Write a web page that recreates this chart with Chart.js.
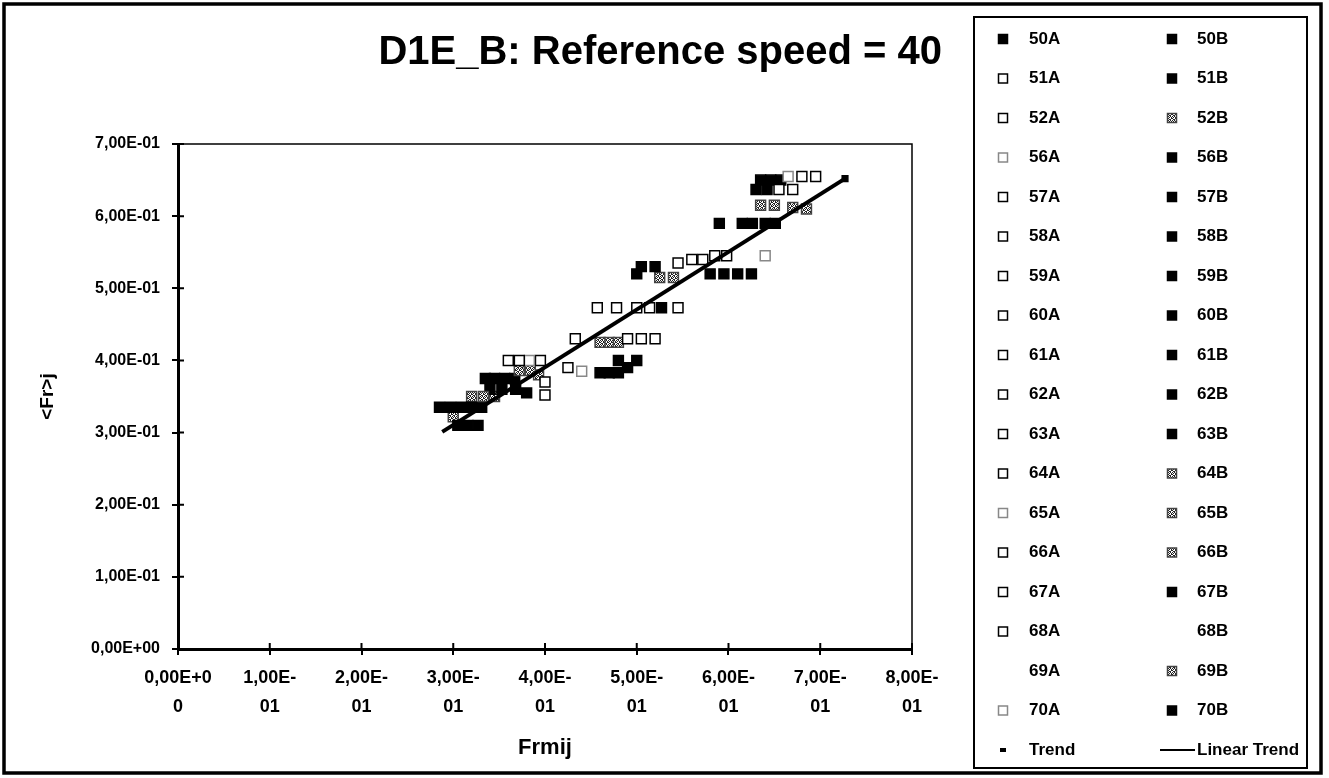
<!DOCTYPE html>
<html>
<head>
<meta charset="utf-8">
<title>D1E_B: Reference speed = 40</title>
<script src="https://cdn.jsdelivr.net/npm/chart.js"></script>
<style>
  html, body { margin: 0; padding: 0; background: #fff; }
  #wrap { width: 1329px; height: 778px; }
</style>
</head>
<body>
<div id="wrap"><canvas id="grafico"></canvas></div>
<script>
// valores: [Frmij, <Fr>j]
const s50A = [[0.285, 0.335], [0.297, 0.335]];
const s51A = [[0.360, 0.400], [0.457, 0.473]];
const s52A = [[0.372, 0.400], [0.478, 0.473]];
const s56A = [[0.383, 0.400], [0.665, 0.655]];
const s57A = [[0.395, 0.400], [0.500, 0.473]];
const s58A = [[0.400, 0.370], [0.680, 0.655]];
const s59A = [[0.400, 0.352], [0.695, 0.655]];
const s60A = [[0.425, 0.390], [0.514, 0.473]];
const s61A = [[0.433, 0.430], [0.545, 0.535]];
const s62A = [[0.490, 0.430], [0.560, 0.540]];
const s63A = [[0.505, 0.430], [0.572, 0.540]];
const s64A = [[0.520, 0.430], [0.585, 0.545]];
const s65A = [[0.640, 0.545]];
const s66A = [[0.545, 0.473], [0.655, 0.637]];
const s67A = [[0.670, 0.637]];
const s68A = [[0.598, 0.545]];
const s69A = [];
const s70A = [[0.440, 0.385]];
const sTrend = [[0.727, 0.652]];

const s50B = [[0.309, 0.335], [0.335, 0.375], [0.460, 0.383]];
const s51B = [[0.320, 0.335], [0.345, 0.375], [0.470, 0.383]];
const s52B = [[0.320, 0.350], [0.333, 0.350], [0.372, 0.386]];
const s56B = [[0.331, 0.335], [0.356, 0.375], [0.480, 0.383]];
const s57B = [[0.305, 0.310], [0.367, 0.375], [0.490, 0.390]];
const s58B = [[0.316, 0.310], [0.340, 0.360], [0.480, 0.400], [0.500, 0.520]];
const s59B = [[0.327, 0.310], [0.353, 0.360], [0.500, 0.400], [0.520, 0.530]];
const s60B = [[0.368, 0.360], [0.527, 0.473], [0.580, 0.520], [0.590, 0.590], [0.635, 0.650]];
const s61B = [[0.380, 0.355], [0.595, 0.520], [0.615, 0.590], [0.646, 0.650]];
const s62B = [[0.610, 0.520], [0.626, 0.590], [0.657, 0.650]];
const s63B = [[0.625, 0.520], [0.640, 0.590], [0.630, 0.637]];
const s64B = [[0.345, 0.350], [0.384, 0.386], [0.635, 0.615], [0.650, 0.615]];
const s65B = [[0.393, 0.380], [0.460, 0.425], [0.525, 0.515]];
const s66B = [[0.470, 0.425], [0.480, 0.425], [0.540, 0.515]];
const s67B = [[0.651, 0.590], [0.642, 0.637]];
const s68B = [];
const s69B = [[0.670, 0.612], [0.685, 0.610], [0.300, 0.322]];
const s70B = [[0.505, 0.530]];

// reta de tendencia
const trendX = [0.288, 0.727];
const trendY = [0.301, 0.652];

const xTicks = [0, 0.8, 0.1]; // min, max, passo
const yTicks = [0, 0.7, 0.1];

const colunaA = [
  ["50A", s50A], ["51A", s51A], ["52A", s52A], ["56A", s56A], ["57A", s57A], ["58A", s58A],
  ["59A", s59A], ["60A", s60A], ["61A", s61A], ["62A", s62A], ["63A", s63A], ["64A", s64A],
  ["65A", s65A], ["66A", s66A], ["67A", s67A], ["68A", s68A], ["69A", s69A], ["70A", s70A],
  ["Trend", sTrend],
];
const colunaB = [
  ["50B", s50B], ["51B", s51B], ["52B", s52B], ["56B", s56B], ["57B", s57B], ["58B", s58B],
  ["59B", s59B], ["60B", s60B], ["61B", s61B], ["62B", s62B], ["63B", s63B], ["64B", s64B],
  ["65B", s65B], ["66B", s66B], ["67B", s67B], ["68B", s68B], ["69B", s69B], ["70B", s70B],
];

// estilos
const tracejados = ["52B", "64B", "65B", "66B", "69B"];
const claros = ["56A", "65A", "70A"];
const semMarcador = ["69A", "68B"];

function criarPadrao() {
  const c = document.createElement("canvas");
  c.width = 4;
  c.height = 4;
  const g = c.getContext("2d");
  g.fillStyle = "#fff";
  g.fillRect(0, 0, 4, 4);
  g.fillStyle = "#222";
  [[0, 0], [2, 0], [1, 1], [3, 1], [0, 2], [3, 2], [1, 3], [2, 3]].forEach(([a, b]) => g.fillRect(a, b, 1, 1));
  return g.createPattern(c, "repeat");
}
const padrao = criarPadrao();

function paraPontos(arr) {
  return arr.map(([x, y]) => ({ x: x, y: y }));
}

function estilo(nome) {
  if (nome === "Trend") return { fill: "#000", stroke: "#000", r: 4 };
  if (tracejados.includes(nome)) return { fill: padrao, stroke: "#444", r: 7 };
  if (nome === "50A" || nome.endsWith("B")) return { fill: "#000", stroke: "#000", r: 7 };
  if (claros.includes(nome)) return { fill: "#fff", stroke: "#888", r: 7 };
  return { fill: "#fff", stroke: "#000", r: 7 };
}

const datasets = [];
colunaA.concat(colunaB).forEach(([nome, arr]) => {
  const e = estilo(nome);
  datasets.push({
    label: nome,
    data: paraPontos(arr),
    pointStyle: "rect",
    pointRadius: semMarcador.includes(nome) ? 0 : e.r,
    backgroundColor: e.fill,
    borderColor: e.stroke,
    borderWidth: 1.5,
  });
});
datasets.push({
  label: "Linear Trend",
  data: trendX.map((x, i) => ({ x: x, y: trendY[i] })),
  showLine: true,
  borderColor: "#000",
  backgroundColor: "#000",
  borderWidth: 4,
  pointRadius: 0,
  order: -1,
});

function formatoExcel(v) {
  const s = Number(v).toExponential(2);
  const partes = s.split("e");
  const sinal = partes[1][0];
  const exp = partes[1].slice(1).padStart(2, "0");
  return partes[0].replace(".", ",") + "E" + sinal + exp;
}

function quebraX(v) {
  const s = formatoExcel(v);
  const i = s.indexOf("-");
  if (i >= 0) return [s.slice(0, i + 1), s.slice(i + 1)];
  return [s.slice(0, s.length - 1), s.slice(s.length - 1)];
}

const fonte = "'Liberation Sans', Arial, sans-serif";

const molduraPlugin = {
  id: "moldura",
  beforeDraw(chart) {
    const ctx = chart.ctx;
    ctx.save();
    ctx.fillStyle = "#fff";
    ctx.fillRect(0, 0, chart.width, chart.height);
    ctx.restore();
  },
  beforeDatasetsDraw(chart) {
    const a = chart.chartArea;
    const ctx = chart.ctx;
    ctx.save();
    ctx.strokeStyle = "#000";
    ctx.lineWidth = 1.5;
    ctx.beginPath();
    ctx.moveTo(a.left, a.top);
    ctx.lineTo(a.right, a.top);
    ctx.lineTo(a.right, a.bottom);
    ctx.stroke();
    // marcas cruzando os eixos (parte interna)
    ctx.lineWidth = 2;
    ctx.beginPath();
    chart.scales.x.ticks.forEach((t) => {
      const px = chart.scales.x.getPixelForValue(t.value);
      ctx.moveTo(px, a.bottom);
      ctx.lineTo(px, a.bottom - 6);
    });
    chart.scales.y.ticks.forEach((t) => {
      const py = chart.scales.y.getPixelForValue(t.value);
      ctx.moveTo(a.left, py);
      ctx.lineTo(a.left + 6, py);
    });
    ctx.stroke();
    ctx.restore();
  },
  afterDraw(chart) {
    const ctx = chart.ctx;
    ctx.save();
    ctx.strokeStyle = "#000";
    ctx.lineWidth = 3.5;
    ctx.strokeRect(4, 4, 1317, 769);
    ctx.restore();
  },
};

const legendaPlugin = {
  id: "legenda",
  afterDraw(chart) {
    const ctx = chart.ctx;
    ctx.save();
    ctx.strokeStyle = "#000";
    ctx.lineWidth = 2;
    ctx.strokeRect(974, 17, 333, 751);
    ctx.font = "bold 17px " + fonte;
    ctx.textBaseline = "middle";
    ctx.textAlign = "left";
    chart.data.datasets.forEach((ds, i) => {
      const col = i < 19 ? 0 : 1;
      const row = i % 19;
      const y = 39 + row * 39.5;
      const mx = col ? 1172 : 1003;
      const tx = col ? 1197 : 1029;
      if (ds.showLine) {
        ctx.strokeStyle = "#000";
        ctx.lineWidth = 2;
        ctx.beginPath();
        ctx.moveTo(1160, y);
        ctx.lineTo(1195, y);
        ctx.stroke();
      } else if (ds.label === "Trend") {
        ctx.fillStyle = "#000";
        ctx.fillRect(mx - 3, y - 2, 6, 4);
      } else if (ds.pointRadius > 0) {
        ctx.fillStyle = ds.backgroundColor;
        ctx.fillRect(mx - 4.5, y - 4.5, 9, 9);
        ctx.strokeStyle = ds.borderColor;
        ctx.lineWidth = 1.5;
        ctx.strokeRect(mx - 4.5, y - 4.5, 9, 9);
      }
      ctx.fillStyle = "#000";
      ctx.fillText(ds.label, tx, y);
    });
    ctx.restore();
  },
};

const ctx = document.getElementById("grafico").getContext("2d");
const grafico = new Chart(ctx, {
  type: "scatter",
  data: { datasets: datasets },
  plugins: [molduraPlugin, legendaPlugin],
  options: {
    responsive: true,
    maintainAspectRatio: false,
    animation: false,
    events: [],
    layout: { padding: { left: 0, right: 387, top: 0, bottom: 0 } },
    plugins: {
      legend: { display: false },
      tooltip: { enabled: false },
      title: {
        display: true,
        text: "D1E_B: Reference speed = 40",
        align: "end",
        color: "#000",
        font: { family: fonte, size: 40, weight: "bold", lineHeight: 1.2 },
        padding: { top: 29, bottom: 67 },
      },
    },
    scales: {
      x: {
        type: "linear",
        position: "bottom",
        min: xTicks[0],
        max: xTicks[1],
        ticks: {
          stepSize: xTicks[2],
          color: "#000",
          padding: 9,
          maxRotation: 0,
          autoSkip: false,
          font: { family: fonte, size: 18, weight: "bold", lineHeight: 1.58 },
          callback: (v) => quebraX(v),
        },
        grid: { drawOnChartArea: false, color: "#000", lineWidth: 2, tickLength: 6 },
        border: { color: "#000", width: 3 },
        title: {
          display: true,
          text: "Frmij",
          color: "#000",
          font: { family: fonte, size: 22, weight: "bold", lineHeight: 1.2 },
          padding: { top: 0, bottom: 17 },
        },
        afterFit: (s) => {
          s.height = 129;
          s.paddingLeft = 0;
          s.paddingRight = 0;
        },
      },
      y: {
        type: "linear",
        position: "left",
        min: yTicks[0],
        max: yTicks[1],
        ticks: {
          stepSize: yTicks[2],
          color: "#000",
          padding: 12,
          font: { family: fonte, size: 16, weight: "bold" },
          callback: (v) => formatoExcel(v),
        },
        grid: { drawOnChartArea: false, color: "#000", lineWidth: 2, tickLength: 6 },
        border: { color: "#000", width: 3 },
        title: {
          display: true,
          text: "<Fr>j",
          color: "#000",
          font: { family: fonte, size: 19, weight: "bold", lineHeight: 1.2 },
          padding: { top: 36, bottom: 0 },
        },
        afterFit: (s) => {
          s.width = 178;
          s.paddingTop = 0;
          s.paddingBottom = 0;
        },
      },
      y2: {
        type: "linear",
        position: "right",
        display: true,
        ticks: { display: false },
        grid: { display: false },
        border: { display: false },
        afterFit: (s) => {
          s.width = 30;
          s.paddingTop = 0;
          s.paddingBottom = 0;
        },
      },
    },
  },
});
</script>
</body>
</html>
